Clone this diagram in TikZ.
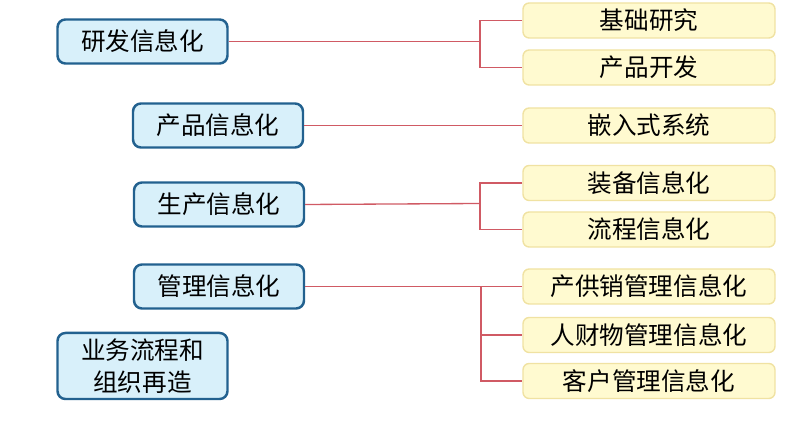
\documentclass[tikz,border=0pt]{standalone}
\usepackage{fontspec}
\setmainfont{Noto Sans CJK SC}
\definecolor{bluefill}{HTML}{D8F0FA}
\definecolor{blueline}{HTML}{22618F}
\definecolor{yellowfill}{HTML}{FFFAD0}
\definecolor{yellowline}{HTML}{F0E2A2}
\definecolor{linkred}{HTML}{D05A64}
\tikzset{
  mainbox/.style={draw=blueline,fill=bluefill,line width=1.4pt,rounded corners=4.5pt,
    minimum width=3.4cm,minimum height=0.88cm,align=center,font=\fontsize{14}{17}\selectfont},
  subbox/.style={draw=yellowline,fill=yellowfill,line width=0.8pt,rounded corners=3.5pt,
    minimum width=5.04cm,minimum height=0.7cm,font=\fontsize{14}{17}\selectfont},
  link/.style={draw=linkred,line width=0.75pt}
}
\begin{document}
\begin{tikzpicture}[x=0.02cm,y=-0.02cm]
\useasboundingbox (0,0) rectangle (796,425);

% left column
\node[mainbox] (yf) at (142.5,41.5) {研发信息化};
\node[mainbox] (cp) at (218,125.5) {产品信息化};
\node[mainbox] (sc) at (219,204.5) {生产信息化};
\node[mainbox] (gl) at (219,286.5) {管理信息化};
\node[mainbox,minimum height=1.32cm] (yw) at (142.5,366) {业务流程和\\[1pt]组织再造};

% right column
\node[subbox] (jc) at (649,20.5) {基础研究};
\node[subbox] (kf) at (649,67.5) {产品开发};
\node[subbox] (qr) at (649,125.5) {嵌入式系统};
\node[subbox] (zb) at (649,183) {装备信息化};
\node[subbox] (lc) at (649,229.5) {流程信息化};
\node[subbox] (gx) at (649,286.5) {产供销管理信息化};
\node[subbox] (rc) at (649,335) {人财物管理信息化};
\node[subbox] (kh) at (649,381) {客户管理信息化};

% branch points
\coordinate (j1) at (480,41.5);
\coordinate (j3) at (480,203.5);
\coordinate (j4) at (481,286.5);

\draw[link] (yf.east) -- (j1);
\draw[link] (jc.west) -| (j1) |- (kf.west);
\draw[link] (cp.east) -- (qr.west);
\draw[link] (sc.east) -- (j3);
\draw[link] (zb.west) -| (j3) |- (lc.west);
\draw[link] (gl.east) -- (gx.west);
\draw[link] (j4) |- (kh.west);
\draw[link] (j4 |- rc.west) -- (rc.west);
\end{tikzpicture}
\end{document}
